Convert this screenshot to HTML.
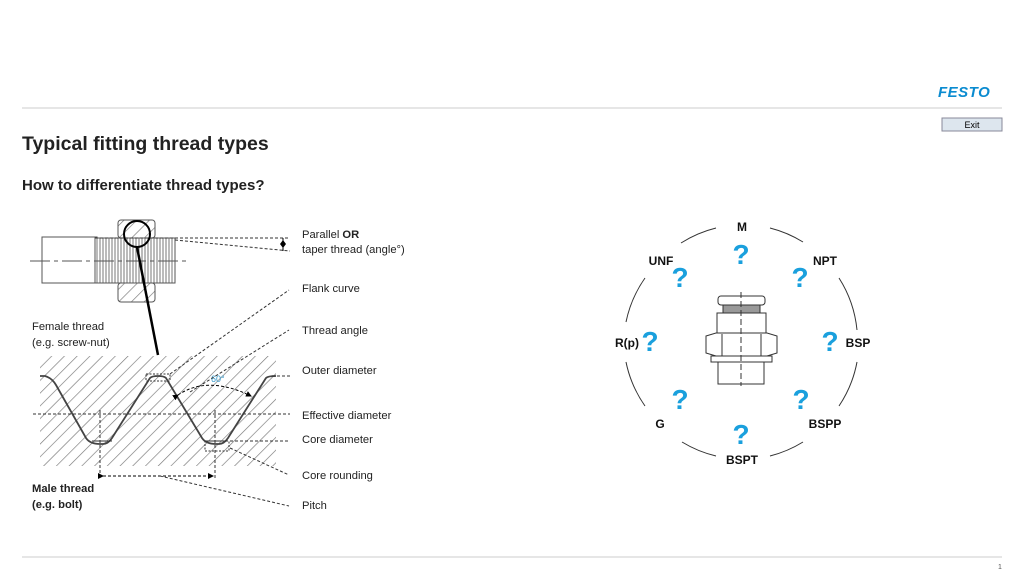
<!DOCTYPE html>
<html><head><meta charset="utf-8"><style>
body{margin:0;width:1024px;height:576px;background:#fff;overflow:hidden;font-family:"Liberation Sans",sans-serif}
svg{position:absolute;left:0;top:0}
</style></head><body>
<svg width="1024" height="576" viewBox="0 0 1024 576" font-family="Liberation Sans, sans-serif">
<defs>
<pattern id="h" width="9" height="9" patternUnits="userSpaceOnUse" patternTransform="rotate(45)">
<rect width="9" height="9" fill="#fff"/><line x1="0" y1="0" x2="0" y2="9" stroke="#777" stroke-width="1.3"/></pattern>
<pattern id="t" width="3" height="10" patternUnits="userSpaceOnUse"><rect width="3" height="10" fill="#fff"/><line x1="1" y1="0" x2="1" y2="10" stroke="#777" stroke-width="1"/></pattern>
<marker id="a" markerWidth="6" markerHeight="6" refX="5" refY="3" orient="auto"><path d="M0,0L6,3L0,6z" fill="#000"/></marker>
</defs>
<line x1="22" y1="108" x2="1002" y2="108" stroke="#ccc"/>
<line x1="22" y1="557" x2="1002" y2="557" stroke="#ccc"/>
<text x="938" y="97" font-size="15" font-weight="bold" fill="#0a8bd0" font-style="italic" letter-spacing="0.5">FESTO</text>
<rect x="942" y="118" width="60" height="13" fill="#dde6ee" stroke="#889"/>
<text x="972" y="128" font-size="9" text-anchor="middle">Exit</text>
<text x="22" y="150" font-size="19.5" font-weight="bold" fill="#222">Typical fitting thread types</text>
<text x="22" y="190" font-size="15" font-weight="bold" fill="#222">How to differentiate thread types?</text>
<text x="998" y="569" font-size="7" fill="#555">1</text>

<!-- bolt -->
<rect x="42" y="237" width="55" height="46" fill="#fff" stroke="#555"/>
<rect x="95" y="238" width="80" height="45" fill="url(#t)" stroke="#555"/>
<rect x="118" y="220" width="37" height="18" rx="3" fill="url(#h)" stroke="#555"/>
<rect x="118" y="283" width="37" height="19" rx="3" fill="url(#h)" stroke="#555"/>
<line x1="30" y1="261" x2="186" y2="261" stroke="#555" stroke-dasharray="20 4 4 4"/>
<circle cx="137" cy="234" r="13" fill="none" stroke="#000" stroke-width="2"/>
<line x1="137" y1="247" x2="158" y2="355" stroke="#000" stroke-width="2.5"/>
<line x1="95" y1="238" x2="290" y2="238" stroke="#333" stroke-dasharray="3 2"/>
<line x1="175" y1="240" x2="290" y2="251" stroke="#333" stroke-dasharray="3 2"/>
<path d="M283,238V251" stroke="#000"/><path d="M280,244l3,-4l3,4l-3,4z" fill="#000"/>

<!-- thread section -->
<rect x="40" y="356" width="236" height="110" fill="url(#h)"/>
<path d="M40,376 L45,376 Q52,378 56,385 L86,438 Q90,444 100,444 L103,444 Q108,444 112,438 L150,378 Q152,376 158,376 Q164,376 166,378 L202,438 Q206,444 216,444 L219,444 Q224,444 228,438 L266,378 Q268,376 276,376" fill="none" stroke="#444" stroke-width="1.8"/>
<line x1="92" y1="441" x2="112" y2="441" stroke="#333"/>
<line x1="205" y1="441" x2="228" y2="441" stroke="#333"/>
<rect x="146" y="374" width="24" height="7" fill="none" stroke="#333" stroke-dasharray="2 1.5"/>
<rect x="205" y="441" width="24" height="10" fill="none" stroke="#333" stroke-dasharray="2 1.5"/>
<text x="211" y="382" font-size="9" fill="#3399cc">60°</text>
<path d="M178,395 Q208,375 251,396" fill="none" stroke="#000" stroke-dasharray="3 2" marker-start="url(#a)" marker-end="url(#a)"/>
<line x1="33" y1="414" x2="290" y2="414" stroke="#333" stroke-dasharray="3 2"/>
<line x1="100" y1="410" x2="100" y2="480" stroke="#333" stroke-dasharray="3 2"/>
<line x1="215" y1="410" x2="215" y2="480" stroke="#333" stroke-dasharray="3 2"/>
<line x1="103" y1="476" x2="213" y2="476" stroke="#000" stroke-dasharray="3 2" marker-start="url(#a)" marker-end="url(#a)"/>
<g stroke="#333" stroke-dasharray="3 2" fill="none">
<line x1="170" y1="374" x2="289" y2="290"/>
<line x1="190" y1="392" x2="289" y2="330"/>
<line x1="272" y1="376" x2="290" y2="376"/>
<line x1="230" y1="441" x2="290" y2="441"/>
<line x1="230" y1="448" x2="289" y2="475"/>
<line x1="160" y1="476" x2="289" y2="506"/>
</g>
<g font-size="11.2" fill="#222">
<text x="302" y="238">Parallel <tspan font-weight="bold">OR</tspan></text>
<text x="302" y="253">taper thread (angle°)</text>
<text x="302" y="292">Flank curve</text>
<text x="302" y="334">Thread angle</text>
<text x="302" y="374">Outer diameter</text>
<text x="302" y="419">Effective diameter</text>
<text x="302" y="443">Core diameter</text>
<text x="302" y="479">Core rounding</text>
<text x="302" y="509">Pitch</text>
<text x="32" y="330">Female thread</text>
<text x="32" y="346">(e.g. screw-nut)</text>
<text x="32" y="492" font-weight="bold">Male thread</text>
<text x="32" y="508" font-weight="bold">(e.g. bolt)</text>
</g>

<!-- circle of thread types -->
<g fill="none" stroke="#333" stroke-width="1">
<path d="M681,243 A118,118 0 0 1 716,228"/>
<path d="M770,228 A118,118 0 0 1 803,242"/>
<path d="M839,278 A118,118 0 0 1 857,330"/>
<path d="M857,362 A118,118 0 0 1 839,406"/>
<path d="M803,442 A118,118 0 0 1 770,456"/>
<path d="M716,456 A118,118 0 0 1 682,442"/>
<path d="M645,406 A118,118 0 0 1 626,362"/>
<path d="M626,322 A118,118 0 0 1 645,278"/>
</g>
<g font-size="12" font-weight="bold" fill="#111" text-anchor="middle">
<text x="742" y="231">M</text><text x="661" y="265">UNF</text><text x="825" y="265">NPT</text>
<text x="627" y="347">R(p)</text><text x="858" y="347">BSP</text>
<text x="660" y="428">G</text><text x="825" y="428">BSPP</text><text x="742" y="464">BSPT</text>
</g>
<g font-size="28" font-weight="bold" fill="#1aa0dd" text-anchor="middle">
<text x="741" y="264">?</text><text x="680" y="287">?</text><text x="800" y="287">?</text>
<text x="650" y="351">?</text><text x="830" y="351">?</text>
<text x="680" y="409">?</text><text x="801" y="409">?</text><text x="741" y="444">?</text>
</g>
<g fill="#fff" stroke="#333" stroke-width="1">
<rect x="718" y="296" width="47" height="9" rx="3"/>
<rect x="723" y="305" width="37" height="8" fill="#999"/>
<rect x="717" y="313" width="49" height="21"/>
<path d="M706,336 L716,333 H767 L777,336 V353 L767,356 H716 L706,353Z"/>
<line x1="722" y1="334" x2="722" y2="356"/><line x1="761" y1="334" x2="761" y2="356"/>
<rect x="711" y="356" width="61" height="6"/>
<rect x="718" y="362" width="46" height="22"/>
<line x1="741" y1="292" x2="741" y2="386" stroke-dasharray="6 3"/>
</g>
</svg>
</body></html>
